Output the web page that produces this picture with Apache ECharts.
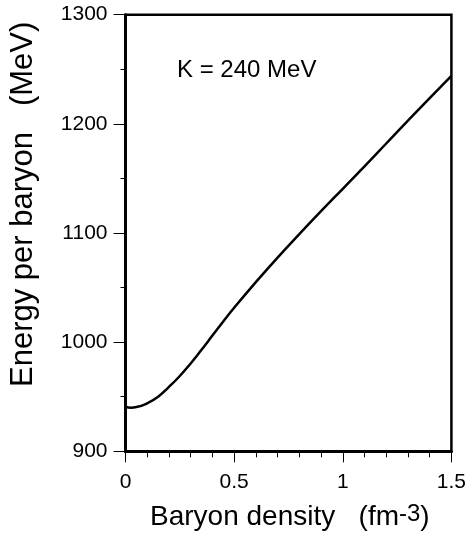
<!DOCTYPE html>
<html>
<head>
<meta charset="utf-8">
<script src="https://cdn.jsdelivr.net/npm/echarts@6/dist/echarts.min.js"></script>
<style>
html,body{margin:0;padding:0;background:#fff;}
#chart{width:469px;height:539px;}
</style>
</head>
<body>
<div id="chart"></div>
<script>
var density = [0, 0.025, 0.05, 0.1, 0.15, 0.2, 0.25, 0.3, 0.35, 0.4, 0.45, 0.5, 0.6, 0.7, 0.8, 0.9, 1.0, 1.1, 1.2, 1.3, 1.4, 1.5];
var energy  = [941, 940, 940.5, 944, 950, 959, 969, 980.5, 993, 1006, 1019, 1031.5, 1055, 1077.5, 1099, 1120, 1140.5, 1161, 1182, 1203, 1223.5, 1244];
var xTicks = [0, 0.5, 1, 1.5];
var yTicks = [900, 1000, 1100, 1200, 1300];
var xTitle = 'Baryon density';
var xUnit = '(fm';
var xUnitSup = '-3';
var yTitle = 'Energy per baryon   (MeV)';
var annotation = 'K = 240 MeV';

var FONT = "'Liberation Sans', Arial, Helvetica, sans-serif";
var chart = echarts.init(document.getElementById('chart'), null, {renderer: 'canvas'});
var data = density.map(function (d, i) { return [d, energy[i]]; });

chart.setOption({
  animation: false,
  backgroundColor: '#fff',
  textStyle: {fontFamily: FONT},
  grid: {left: 125.5, top: 14.7, right: 13, bottom: 87.7, show: true, borderColor: '#000', borderWidth: 2.5, backgroundColor: 'transparent'},
  xAxis: {
    type: 'value', min: xTicks[0], max: xTicks[xTicks.length - 1], interval: xTicks[1] - xTicks[0],
    axisLine: {onZero: false, lineStyle: {color: '#000', width: 3}},
    axisTick: {length: 11, lineStyle: {color: '#000', width: 1}},
    minorTick: {show: true, splitNumber: 5, length: 6, lineStyle: {color: '#000', width: 1}},
    splitLine: {show: false},
    minorSplitLine: {show: false},
    axisLabel: {fontSize: 21, color: '#000', margin: 20, fontFamily: FONT, formatter: function (v) { return String(v); }}
  },
  yAxis: {
    type: 'value', min: yTicks[0], max: yTicks[yTicks.length - 1], interval: yTicks[1] - yTicks[0],
    axisLine: {onZero: false, lineStyle: {color: '#000', width: 3}},
    axisTick: {length: 12, lineStyle: {color: '#000', width: 1}},
    minorTick: {show: true, splitNumber: 2, length: 5, lineStyle: {color: '#000', width: 1}},
    splitLine: {show: false},
    minorSplitLine: {show: false},
    axisLabel: {fontSize: 21, color: '#000', margin: 18, fontFamily: FONT, formatter: function (v) { return String(v); }}
  },
  series: [{
    type: 'line', data: data, smooth: true, symbol: 'none',
    lineStyle: {color: '#000', width: 2.5}
  }],
  graphic: [
    {type: 'text', x: 177, y: 70, style: {text: annotation, fontSize: 24, fontFamily: FONT, fill: '#000', align: 'left', verticalAlign: 'middle'}},
    {type: 'text', x: 150, y: 517, style: {
      text: '{a|' + xTitle + '   ' + xUnit + '}{s|' + xUnitSup + '}{a|)}',
      align: 'left', verticalAlign: 'middle', fill: '#000',
      rich: {
        a: {fontSize: 28, fontFamily: FONT, fill: '#000', lineHeight: 30},
        s: {fontSize: 24, fontFamily: FONT, fill: '#000', verticalAlign: 'top', lineHeight: 30}
      }
    }},
    {type: 'text', x: 23, y: 387, rotation: Math.PI / 2, style: {
      text: yTitle, fontSize: 31, fontFamily: FONT, fill: '#000',
      align: 'left', verticalAlign: 'middle'
    }}
  ]
});
</script>
</body>
</html>
